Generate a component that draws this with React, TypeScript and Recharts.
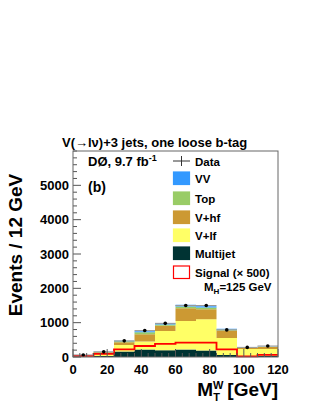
import React from 'react';
import { ComposedChart, Area, Line, Scatter, ErrorBar, XAxis, YAxis } from 'recharts';

// bin edges (GeV) and per-bin contents
const binEdges = [0, 12, 24, 36, 48, 60, 72, 84, 96, 108, 120];
const multijet = [15, 30, 160, 220, 200, 220, 190, 60, 30, 30];
const vlf = [25, 80, 190, 230, 560, 830, 910, 490, 200, 200];
const vhf = [15, 30, 80, 210, 150, 370, 290, 220, 35, 60];
const top = [3, 8, 30, 60, 40, 50, 50, 30, 8, 10];
const vv = [2, 5, 15, 30, 30, 50, 40, 20, 5, 8];
const signal = [30, 90, 220, 320, 380, 420, 420, 220, 20, 60];
const dataCounts = [60, 150, 470, 770, 980, 1500, 1500, 790, 280, 320];
const dataErr = [10, 12, 22, 28, 31, 39, 39, 28, 17, 18];

const yTicks = [0, 200, 400, 600, 800, 1000, 1200, 1400, 1600, 1800, 2000, 2200, 2400, 2600, 2800, 3000,
  3200, 3400, 3600, 3800, 4000, 4200, 4400, 4600, 4800, 5000, 5200, 5400, 5600, 5800, 6000];
const yMajor = [0, 1000, 2000, 3000, 4000, 5000];
const xTicks = [0, 4, 8, 12, 16, 20, 24, 28, 32, 36, 40, 44, 48, 52, 56, 60, 64, 68, 72, 76, 80, 84, 88, 92, 96, 100, 104, 108, 112, 116, 120];
const xMajor = [0, 20, 40, 60, 80, 100, 120];

const FONT = '"Liberation Sans", Arial, Helvetica, sans-serif';
const W = 316;
const H = 409;
const PL = 73;
const PR = 278;
const PT = 151;
const PB = 357;

const histRows = binEdges.map((x, i) => {
  const k = Math.min(i, multijet.length - 1);
  return {
    x,
    multijet: multijet[k],
    vlf: vlf[k],
    vhf: vhf[k],
    top: top[k],
    vv: vv[k],
    signal: signal[k],
  };
});

const dataRows = dataCounts.map((y, i) => ({
  x: (binEdges[i] + binEdges[i + 1]) / 2,
  y,
  xerr: (binEdges[i + 1] - binEdges[i]) / 2,
  yerr: dataErr[i],
}));

const YTick = (props: any) => {
  const v = props.payload.value;
  const y = props.y;
  const major = yMajor.includes(v);
  return (
    <g>
      <line x1={PL} x2={PL + (major ? 8 : 4)} y1={y} y2={y} stroke="#555" strokeWidth={1} />
      {major && (
        <text x={PL - 4} y={y + 4.5} textAnchor="end" fontFamily={FONT} fontWeight="bold" fontSize={13} fill="#000">
          {v}
        </text>
      )}
    </g>
  );
};

const XTick = (props: any) => {
  const v = props.payload.value;
  const x = props.x;
  const major = xMajor.includes(v);
  return (
    <g>
      <line x1={x} x2={x} y1={PB} y2={PB - (major ? 8 : 4)} stroke="#555" strokeWidth={1} />
      {major && (
        <text x={x} y={PB + 17} textAnchor="middle" fontFamily={FONT} fontWeight="bold" fontSize={13} fill="#000">
          {v}
        </text>
      )}
    </g>
  );
};

const DataDot = (props: any) => <circle cx={props.cx} cy={props.cy} r={1.8} fill="#000" />;

const legendItems = [
  { label: 'VV', fill: '#3399ff', stroke: '#3399ff', y: 172 },
  { label: 'Top', fill: '#99cc66', stroke: '#99cc66', y: 192 },
  { label: 'V+hf', fill: '#cc9933', stroke: '#cc9933', y: 211 },
  { label: 'V+lf', fill: '#ffff66', stroke: '#ffff66', y: 229 },
  { label: 'Multijet', fill: '#003333', stroke: '#003333', y: 247 },
  { label: 'Signal (\u00d7 500)', fill: '#ffffff', stroke: '#ff0000', y: 266 },
];

const Overlay = () => (
  <svg width={W} height={H} style={{ position: 'absolute', left: 0, top: 0, pointerEvents: 'none' }}>
    <rect x={PL} y={PT} width={PR - PL} height={PB - PT} fill="none" stroke="#666" strokeWidth={1} />
    <text x={62} y={147} fontFamily={FONT} fontWeight="bold" fontSize={13} fill="#000">
      V(→lν)+3 jets, one loose b-tag
    </text>
    <text x={88} y={166} fontFamily={FONT} fontWeight="bold" fontSize={13} fill="#000">
      DØ, 9.7 fb<tspan fontSize={9} dy={-5}>-1</tspan>
    </text>
    <text x={88} y={192} fontFamily={FONT} fontWeight="bold" fontSize={14} fill="#000">(b)</text>
    <line x1={173} x2={190} y1={161} y2={161} stroke="#333" strokeWidth={1} />
    <line x1={181.5} x2={181.5} y1={156} y2={166} stroke="#333" strokeWidth={1} />
    <text x={195} y={165.5} fontFamily={FONT} fontWeight="bold" fontSize={11.5} fill="#000">Data</text>
    {legendItems.map((it) => (
      <g key={it.label}>
        <rect x={173.5} y={it.y} width={16} height={12.5} fill={it.fill} stroke={it.stroke} strokeWidth={1.2} />
        <text x={195} y={it.y + 10.5} fontFamily={FONT} fontWeight="bold" fontSize={11.5} fill="#000">{it.label}</text>
      </g>
    ))}
    <text x={204} y={291} fontFamily={FONT} fontWeight="bold" fontSize={11.5} fill="#000">
      M<tspan fontSize={8} dy={3}>H</tspan><tspan dy={-3}>=125 GeV</tspan>
    </text>
    <text
      transform="translate(22,245) rotate(-90)"
      textAnchor="middle"
      fontFamily={FONT}
      fontWeight="bold"
      fontSize={19}
      fill="#000"
    >
      Events / 12 GeV
    </text>
    <text x={PR} y={396} textAnchor="end" fontFamily={FONT} fontWeight="bold" fontSize={19} fill="#000">
      M<tspan fontSize={11} dx={0} dy={5}>T</tspan><tspan fontSize={11} dx={-7} dy={-12}>W</tspan>
      <tspan fontSize={19} dx={4} dy={7}>[GeV]</tspan>
    </text>
  </svg>
);

export default function App() {
  return (
    <div style={{ position: 'relative', width: W, height: H, margin: -8, background: '#fff' }}>
      <ComposedChart width={W} height={H} data={histRows} margin={{ top: PT, right: W - PR, bottom: 0, left: 0 }}>
        <XAxis
          dataKey="x"
          type="number"
          domain={[0, 120]}
          ticks={xTicks}
          interval={0}
          tick={<XTick />}
          tickLine={false}
          axisLine={false}
          height={H - PB}
        />
        <YAxis
          type="number"
          domain={[0, 6000]}
          ticks={yTicks}
          interval={0}
          tick={<YTick />}
          tickLine={false}
          axisLine={false}
          width={PL}
        />
        <Area type="stepAfter" dataKey="multijet" stackId="s" fill="#003333" fillOpacity={1} stroke="none" isAnimationActive={false} />
        <Area type="stepAfter" dataKey="vlf" stackId="s" fill="#ffff66" fillOpacity={1} stroke="none" isAnimationActive={false} />
        <Area type="stepAfter" dataKey="vhf" stackId="s" fill="#cc9933" fillOpacity={1} stroke="none" isAnimationActive={false} />
        <Area type="stepAfter" dataKey="top" stackId="s" fill="#99cc66" fillOpacity={1} stroke="none" isAnimationActive={false} />
        <Area type="stepAfter" dataKey="vv" stackId="s" fill="#3399ff" fillOpacity={1} stroke="none" isAnimationActive={false} />
        <Line type="stepAfter" dataKey="signal" stroke="#ff0000" strokeWidth={1.8} dot={false} isAnimationActive={false} />
        <Scatter data={dataRows} dataKey="y" shape={<DataDot />} isAnimationActive={false}>
          <ErrorBar dataKey="xerr" direction="x" width={0} stroke="#999" strokeWidth={1} />
          <ErrorBar dataKey="yerr" direction="y" width={0} stroke="#000" strokeWidth={1} />
        </Scatter>
      </ComposedChart>
      <Overlay />
    </div>
  );
}
